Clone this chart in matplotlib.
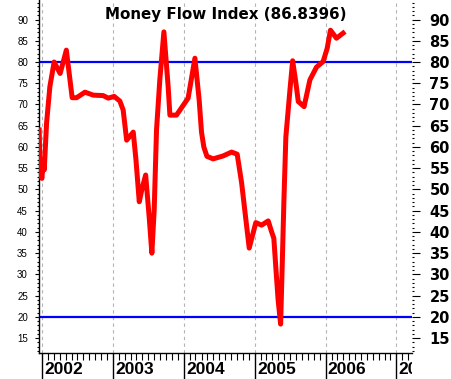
import numpy as np
import pandas as pd
import matplotlib
matplotlib.use("Agg")
import matplotlib.pyplot as plt
import matplotlib.dates as mdates
import matplotlib.transforms as mtransforms

# Money Flow Index
dates = ["2001-12-16", "2001-12-20", "2001-12-30", "2002-01-06", "2002-01-11",
         "2002-01-23", "2002-02-09", "2002-03-03", "2002-04-03", "2002-05-05",
         "2002-06-04", "2002-06-27", "2002-08-09", "2002-09-21", "2002-11-11",
         "2002-12-07", "2003-01-07", "2003-02-05", "2003-02-22", "2003-03-12",
         "2003-04-15", "2003-04-29", "2003-05-16", "2003-05-31", "2003-06-18",
         "2003-07-06", "2003-07-20", "2003-08-01", "2003-08-13", "2003-08-30",
         "2003-09-20", "2003-10-12", "2003-10-21", "2003-11-24", "2004-01-23",
         "2004-02-27", "2004-03-20", "2004-04-01", "2004-04-13", "2004-04-29",
         "2004-05-31", "2004-07-22", "2004-09-03", "2004-10-02", "2004-10-25",
         "2004-11-14", "2004-12-03", "2005-01-06", "2005-02-05", "2005-03-11",
         "2005-03-28", "2005-04-09", "2005-04-19", "2005-05-01", "2005-05-14",
         "2005-05-22", "2005-05-31", "2005-06-10", "2005-07-01", "2005-07-15",
         "2005-08-01", "2005-08-13", "2005-09-12", "2005-10-12", "2005-11-15",
         "2005-12-19", "2006-01-09", "2006-01-26", "2006-02-26", "2006-04-01"]
mfi = [64.0, 54.6, 52.6, 57.0, 54.6,
       65.6, 74.2, 80.0, 77.3, 82.8,
       71.6, 71.6, 72.9, 72.2, 72.1,
       71.5, 71.9, 70.8, 68.7, 61.6,
       63.5, 57.0, 47.1, 50.3, 53.4,
       43.6, 35.0, 45.2, 64.0, 75.8,
       87.1, 74.2, 67.5, 67.5, 71.5,
       80.9, 71.0, 63.5, 60.0, 57.8,
       57.2, 57.9, 58.8, 58.3, 51.5,
       43.6, 36.2, 42.2, 41.6, 42.6,
       40.1, 38.5, 31.8, 24.0, 18.3,
       31.8, 47.5, 62.4, 73.4, 80.3,
       75.0, 70.7, 69.5, 75.8, 78.8,
       80.1, 83.2, 87.5, 85.6, 86.8]
overbought = 80
oversold = 20
title = "Money Flow Index (86.8396)"
years = [2002, 2003, 2004, 2005, 2006, 2007]

W, H = 451, 379
plt.rcParams['font.family'] = ['Liberation Sans', 'DejaVu Sans']
fig = plt.figure(figsize=(W / 100, H / 100), dpi=100)

ax = fig.add_axes([39 / W, 1 - 353 / H, (412.3 - 39) / W, 353 / H])
x = pd.to_datetime(dates)

ax.axhline(overbought, color="#0000ff", linewidth=1.6, zorder=2)
ax.axhline(oversold, color="#0000ff", linewidth=1.6, zorder=2)
ax.plot(x, mfi, color="#ff0000", linewidth=3.6, solid_joinstyle="round", zorder=3)

ax.set_xlim(pd.Timestamp("2001-12-15"), pd.Timestamp("2007-03-24"))
ax.set_ylim(11.5, 94.6)

for s in ["top", "right"]:
    ax.spines[s].set_visible(False)
ax.spines["left"].set_linewidth(1.0)
ax.spines["bottom"].set_linewidth(1.0)

# left axis
ax.set_yticks(np.arange(15, 91, 5))
ax.yaxis.set_minor_locator(plt.MultipleLocator(1))
ax.tick_params(axis="y", which="major", length=3, width=0.8, pad=5, labelsize=7)
ax.tick_params(axis="y", which="minor", length=1.5, width=0.8)

# bottom axis: long year ticks, monthly minor ticks
year_ticks = [pd.Timestamp(f"{y}-01-01") for y in years]
ax.set_xticks(year_ticks)
ax.set_xticklabels([])
ax.xaxis.set_minor_locator(mdates.MonthLocator())
ax.tick_params(axis="x", which="major", length=18.7, width=1.0)
ax.tick_params(axis="x", which="minor", length=5, width=0.8)
ax.grid(axis="x", which="major", color="#b4b4b4", linestyle=(0, (3, 3)), linewidth=0.8)

# year labels sit right of the long ticks, cut off at the right edge of the plot
clip = mtransforms.TransformedBbox(mtransforms.Bbox([[0, 0], [412.3 / W, 1]]), fig.transFigure)
trans = mtransforms.offset_copy(ax.get_xaxis_transform(), fig=fig, x=1.5, units="points")
for yr, t in zip(years, year_ticks):
    txt = ax.text(t, -9 / 353, str(yr), transform=trans, ha="left", va="top",
                  fontsize=12.5, fontweight="bold")
    txt.set_clip_box(clip)
    txt.set_clip_on(True)

# right axis
ax2 = ax.twinx()
ax2.set_ylim(ax.get_ylim())
for s in ax2.spines.values():
    s.set_visible(False)
ax2.set_yticks(np.arange(15, 91, 5))
ax2.yaxis.set_minor_locator(plt.MultipleLocator(1))
ax2.tick_params(axis="y", which="major", length=5.8, width=0.8, pad=6.5, labelsize=10.5)
ax2.tick_params(axis="y", which="minor", length=1.5, width=0.8)
for lab in ax2.get_yticklabels():
    lab.set_fontweight("bold")
    lab.set_family("DejaVu Sans")

ax.text(0.5, 1 - 14 / 353, title, transform=ax.transAxes, ha="center", va="center",
        fontsize=10.9, fontweight="bold", family="DejaVu Sans")

fig.savefig("out.png", dpi=100)
